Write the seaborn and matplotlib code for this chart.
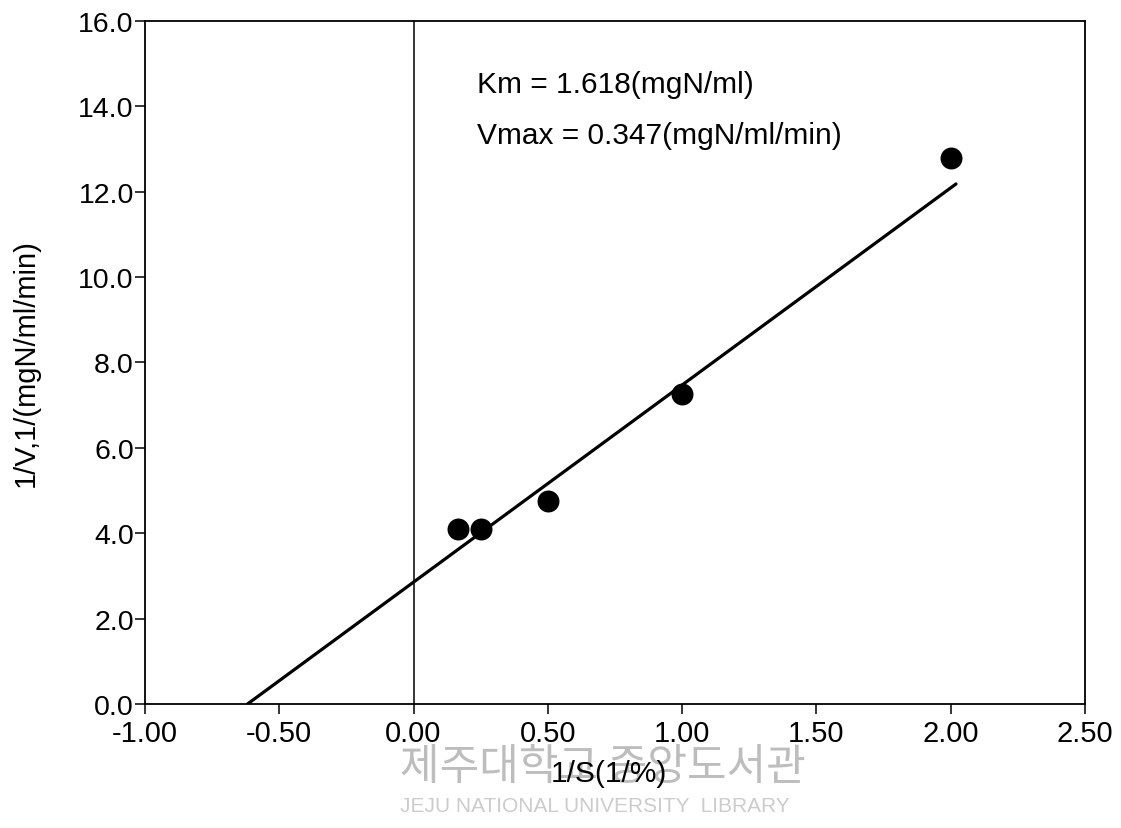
import matplotlib
matplotlib.use("Agg")
import matplotlib.pyplot as plt
import seaborn as sns
import pandas as pd

# Data
inv_s = [0.167, 0.25, 0.5, 1.0, 2.0]
inv_v = [4.1, 4.1, 4.75, 7.25, 12.8]
fit_x = [-0.618, 2.02]
fit_y = [0.0, 12.18]
x_ticks = [-1.0, -0.5, 0.0, 0.5, 1.0, 1.5, 2.0, 2.5]
y_ticks = [0, 2, 4, 6, 8, 10, 12, 14, 16]
km_text = "Km = 1.618(mgN/ml)"
vmax_text = "Vmax = 0.347(mgN/ml/min)"

sns.set_theme(style="ticks")
plt.rcParams['font.family'] = ['Liberation Sans', 'Noto Sans CJK KR', 'DejaVu Sans']

fig = plt.figure(figsize=(11.21, 8.29), dpi=100)

# Library watermark (drawn beneath everything)
fig.text(0.357, 0.073, "제주대학교 중앙도서관", fontsize=31, color="#bdbdbd",
         va="center", ha="left", zorder=-5, family=['Noto Sans CJK KR'])
fig.text(0.357, 0.027, "JEJU NATIONAL UNIVERSITY  LIBRARY", fontsize=15,
         color="#cccccc", va="center", ha="left", zorder=-5)

ax = fig.add_axes([0.1293, 0.1496, 0.8385, 0.824])
ax.set_zorder(1)
ax.patch.set_alpha(0)

pts = pd.DataFrame({"x": inv_s, "y": inv_v})
fit = pd.DataFrame({"x": fit_x, "y": fit_y})

ax.axvline(0, color="black", lw=1.1, zorder=1)
sns.lineplot(data=fit, x="x", y="y", ax=ax, color="black", lw=2.3, zorder=2)
sns.scatterplot(data=pts, x="x", y="y", ax=ax, color="black", s=250,
                edgecolor="black", linewidth=0, zorder=3)

ax.set_xlim(-1.0, 2.5)
ax.set_ylim(0, 16)
ax.set_xticks(x_ticks)
ax.set_xticklabels([f"{v:.2f}" for v in x_ticks])
ax.set_yticks(y_ticks)
ax.set_yticklabels([f"{v:.1f}" for v in y_ticks])
ax.tick_params(axis="both", direction="out", length=7, width=1.1,
               labelsize=21, color="black", labelcolor="black")
ax.tick_params(axis="x", pad=4)
ax.tick_params(axis="y", pad=1, labelsize=20.5)
for sp in ax.spines.values():
    sp.set_visible(True)
    sp.set_color("black")
    sp.set_linewidth(1.3)

ax.set_xlabel("1/S(1/%)", fontsize=21.5, color="black")
ax.set_ylabel("1/V,1/(mgN/ml/min)", fontsize=21, color="black")
ax.xaxis.set_label_coords(0.494, -0.08)
ax.yaxis.set_label_coords(-0.112, 0.5)

ax.text(0.238, 14.52, km_text, fontsize=21.5, color="black", va="center")
ax.text(0.238, 13.33, vmax_text, fontsize=21.5, color="black", va="center")

fig.savefig("out.png", dpi=100, facecolor="white")
